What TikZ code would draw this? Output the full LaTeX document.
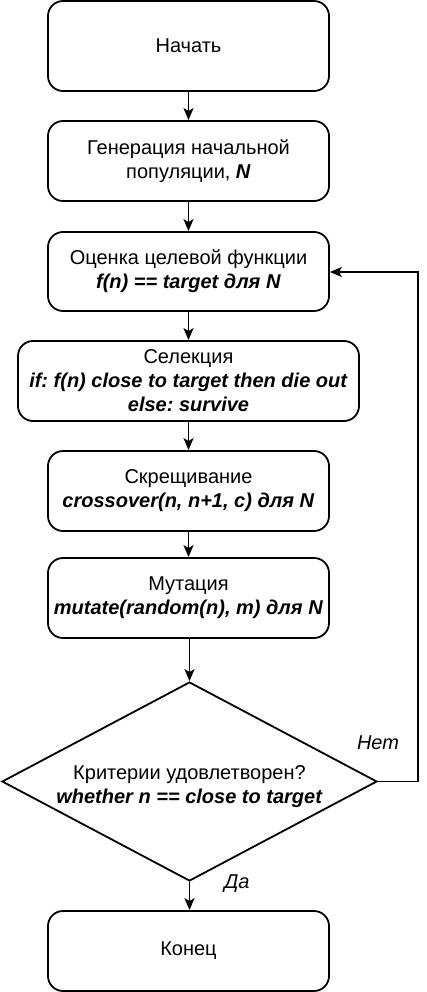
\documentclass[tikz,border=0pt]{standalone}
\usepackage{fontspec}
\setmainfont{Liberation Sans}
\frenchspacing
\usetikzlibrary{shapes.geometric,arrows.meta}
\begin{document}
\begin{tikzpicture}[x=1pt,y=-1pt,
  box/.style={draw, line width=1.8pt, rounded corners=15pt, minimum width=281pt, align=center, inner sep=0pt,
    font=\fontsize{20}{24}\selectfont},
  conn/.style={line width=1.8pt, -{Stealth[length=12pt,width=10pt,inset=3pt]}},
  lbl/.style={font=\fontsize{20}{24}\selectfont\itshape}]
\useasboundingbox (0,0) rectangle (427,992);
\node[box, minimum height=90pt] (start) at (188.5,46) {Начать};
\node[box, minimum height=80pt] (gen) at (188.5,161) {Генерация начальной\\популяции, \textbf{\textit{N}}};
\node[box, minimum height=79pt] (eval) at (188.5,271.5) {Оценка целевой функции\\\textbf{\textit{f(n) == target для N}}};
\node[box, minimum width=341pt, minimum height=80pt] (sel) at (188.5,381) {Селекция\\\textbf{\textit{if: f(n) close to target then die out}}\\\textbf{\textit{else: survive}}};
\node[box, minimum height=80pt] (cross) at (188.5,491) {Скрещивание\\\textbf{\textit{crossover(n, n+1, c) для N}}};
\node[box, minimum height=80pt] (mut) at (188.5,598) {Мутация\\\textbf{\textit{mutate(random(n), m) для N}}};
\node[draw, line width=1.8pt, shape=diamond, minimum width=375pt, minimum height=199pt, inner sep=0pt, aspect=1.88] (crit) at (189.5,781.5) {};
\node[align=center, font=\fontsize{20}{24}\selectfont] (crittext) at (189.5,787) {Критерии удовлетворен?\\\textbf{\textit{whether n == close to target}}};
\node[box, minimum height=80pt] (end) at (188.5,951) {Конец};
\coordinate (c1) at (418,781.5);
\coordinate (c2) at (418,272);
\draw[conn] (start) -- (gen);
\draw[conn] (gen) -- (eval);
\draw[conn] (eval) -- (sel);
\draw[conn] (sel) -- (cross);
\draw[conn] (cross) -- (mut);
\draw[conn] (mut.south -| crit.north) -- (crit.north);
\draw[conn] (crit.south) -- (end.north -| crit.south);
\draw[conn] (crit.east) -- (c1) -- (c2) -- (eval.east |- c2);
\node[lbl] (no) at (378,743) {Нет};
\node[lbl] (yes) at (237,884) {Да};
\end{tikzpicture}
\end{document}
